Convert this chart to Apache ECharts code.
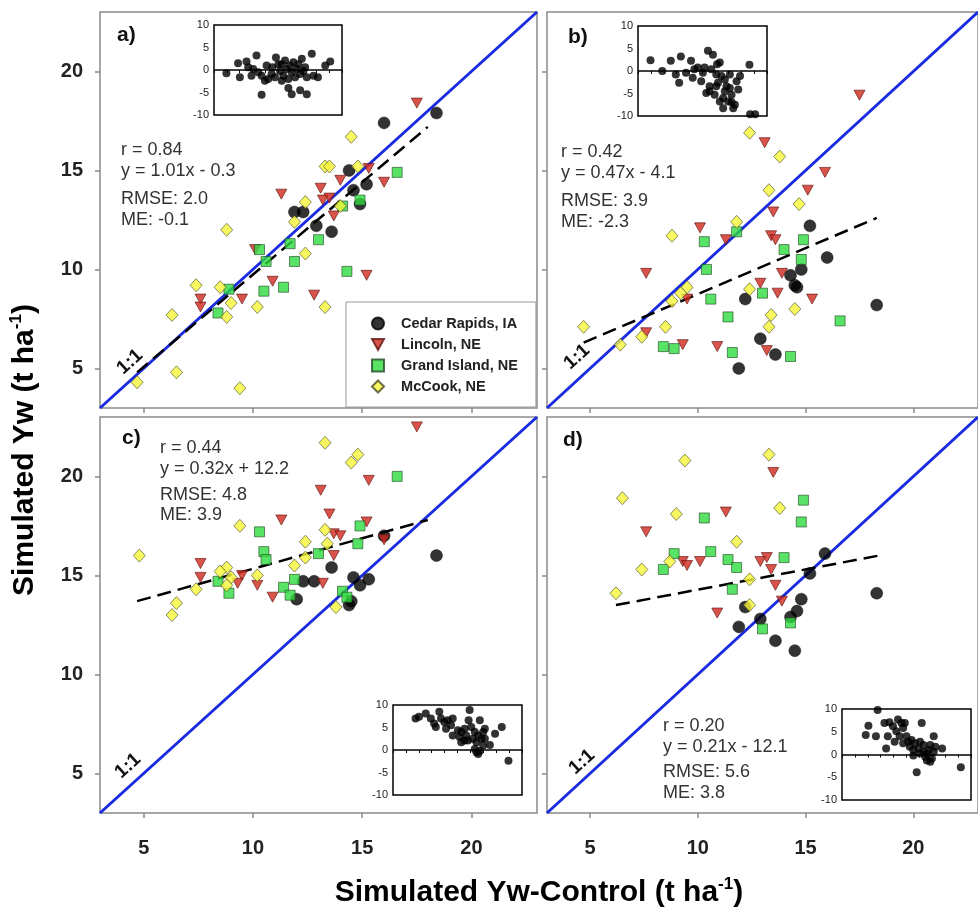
<!DOCTYPE html>
<html>
<head>
<meta charset="utf-8">
<script src="https://cdn.jsdelivr.net/npm/echarts@6/dist/echarts.min.js"></script>
<style>html,body{margin:0;padding:0;background:#fff}#c{width:978px;height:914px}</style>
</head>
<body>
<div id="c"></div>
<script>
// ---------- DATA ----------
const seriesNames = ['Cedar Rapids, IA', 'Lincoln, NE', 'Grand Island, NE', 'McCook, NE'];
const xTicks = [5, 10, 15, 20];
const yTicks = [5, 10, 15, 20];
const axisRange = [3, 23];
const oneToOne = [3, 23];
const panelLabels = ['a)', 'b)', 'c)', 'd)'];
const statR = ['r = 0.84', 'r = 0.42', 'r = 0.44', 'r = 0.20'];
const statEq = ['y = 1.01x - 0.3', 'y = 0.47x - 4.1', 'y = 0.32x + 12.2', 'y = 0.21x - 12.1'];
const statRMSE = ['RMSE: 2.0', 'RMSE: 3.9', 'RMSE: 4.8', 'RMSE: 5.6'];
const statME = ['ME: -0.1', 'ME: -2.3', 'ME: 3.9', 'ME: 3.8'];
const insetYTicks = [-10, 10, 5];   // min, max, step

// Panel a
const cedarA = [[16.0,17.4],[18.4,17.9],[14.4,15.0],[14.6,14.0],[15.2,14.3],[14.9,13.3],[11.9,12.9],[12.3,12.9],[12.9,12.2],[13.6,11.9]];
const lincolnA = [[17.5,18.4],[11.3,13.8],[13.1,14.1],[14.0,14.5],[15.3,15.1],[16.0,14.4],[13.2,13.5],[13.5,13.6],[13.7,12.7],[10.1,11.0],[10.9,9.4],[7.6,8.5],[7.6,8.1],[9.5,8.5],[12.8,8.7],[15.2,9.7]];
const grandA = [[16.6,14.9],[14.9,13.5],[14.1,13.2],[13.0,11.5],[11.7,11.3],[10.3,11.0],[10.6,10.4],[11.9,10.4],[14.3,9.9],[11.4,9.1],[10.5,8.9],[8.9,9.0],[8.4,7.8]];
const mccookA = [[14.5,16.7],[13.3,15.2],[13.5,15.2],[14.8,15.2],[12.4,13.4],[11.9,12.4],[14.0,13.2],[8.8,12.0],[12.4,10.8],[7.4,9.2],[8.5,9.1],[9.0,8.3],[10.2,8.1],[13.3,8.1],[8.8,7.6],[6.3,7.7],[6.5,4.8],[4.7,4.3],[9.4,4.0]];
const regA = [[4.7,4.8],[18.0,17.2]];

// Panel b
const cedarB = [[15.2,12.2],[16.0,10.6],[14.8,10.0],[14.3,9.7],[14.5,9.2],[14.6,9.1],[12.2,8.5],[18.3,8.2],[12.9,6.5],[13.6,5.7],[11.9,5.0]];
const lincolnB = [[17.5,18.8],[13.1,16.4],[15.9,14.9],[15.1,14.0],[13.5,12.9],[10.1,12.1],[11.3,11.5],[13.4,11.7],[13.6,11.5],[13.9,9.8],[7.6,9.8],[12.9,9.3],[13.7,8.8],[15.3,8.5],[9.5,8.5],[7.6,6.8],[9.3,6.2],[10.9,6.1],[13.2,5.9]];
const grandB = [[11.8,11.9],[10.3,11.4],[14.9,11.5],[14.0,11.0],[14.8,10.5],[10.4,10.0],[13.0,8.8],[10.6,8.5],[11.4,7.6],[16.6,7.4],[8.4,6.1],[8.9,6.0],[11.6,5.8],[14.3,5.6]];
const mccookB = [[12.4,16.9],[13.8,15.7],[13.3,14.0],[14.7,13.3],[11.8,12.4],[8.8,11.7],[12.4,9.0],[9.5,9.1],[9.2,8.8],[8.8,8.4],[13.4,7.7],[14.5,8.0],[13.3,7.1],[8.5,7.1],[4.7,7.1],[7.4,6.6],[6.4,6.2]];
const regB = [[4.7,6.3],[18.3,12.6]];

// Panel c
const cedarC = [[18.4,16.0],[13.6,15.4],[16.0,17.0],[12.3,14.7],[12.8,14.7],[14.6,14.9],[14.9,14.5],[15.3,14.8],[12.0,13.8],[14.4,13.5],[14.5,13.7]];
const lincolnC = [[17.5,22.5],[13.1,19.3],[15.3,19.8],[13.5,18.1],[11.3,17.8],[15.2,17.7],[16.0,16.8],[13.7,17.1],[14.0,17.0],[13.7,16.0],[7.6,15.6],[7.6,14.9],[9.5,15.0],[9.3,14.6],[10.2,14.5],[10.9,13.9],[13.2,14.6]];
const grandC = [[16.6,20.0],[14.9,17.5],[10.3,17.2],[14.8,16.6],[10.5,16.2],[13.0,16.1],[10.6,15.8],[11.9,14.8],[8.4,14.7],[11.4,14.4],[11.7,14.0],[8.9,14.1],[14.1,14.2],[14.3,13.9]];
const mccookC = [[13.3,21.7],[14.8,21.1],[14.5,20.7],[9.4,17.5],[13.3,17.3],[12.4,16.7],[13.4,16.6],[4.8,16.0],[12.4,15.9],[11.9,15.5],[8.8,15.4],[8.5,15.2],[10.2,15.0],[9.0,14.9],[8.8,14.5],[7.4,14.3],[6.5,13.6],[6.3,13.0],[13.8,13.4]];
const regC = [[4.7,13.7],[18.0,17.8]];

// Panel d
const cedarD = [[15.9,16.1],[15.2,15.1],[18.3,14.1],[14.8,13.8],[12.2,13.4],[14.6,13.2],[14.3,12.9],[12.9,12.8],[11.9,12.4],[13.6,11.7],[14.5,11.2]];
const lincolnD = [[13.5,20.2],[11.3,18.2],[7.6,17.2],[9.3,15.7],[9.5,15.5],[10.1,15.7],[12.9,15.7],[13.2,15.9],[13.4,15.3],[13.6,14.5],[13.9,13.7],[10.9,13.1]];
const grandD = [[14.9,18.8],[14.8,17.7],[10.3,17.9],[10.6,16.2],[8.9,16.1],[8.4,15.3],[11.4,15.8],[11.8,15.4],[14.0,15.9],[11.6,14.3],[13.0,12.3],[14.3,12.6]];
const mccookD = [[13.3,21.1],[9.4,20.8],[6.5,18.9],[9.0,18.1],[13.8,18.4],[11.8,16.7],[8.7,15.7],[7.4,15.3],[12.4,14.8],[6.2,14.1],[12.4,13.5]];
const regD = [[6.2,13.5],[18.4,16.0]];

// Inset residuals (x position across inset in %, residual t/ha)
const residA = [[9.7,-0.7],[18.8,1.5],[20.2,-1.6],[25.4,1.9],[33.2,3.2],[30.6,0.2],[34.6,-0.5],[37.2,-1.3],[37.2,-5.5],[41.1,1.0],[42.4,-2.0],[45.0,-0.9],[47.6,-1.6],[48.4,2.8],[51.6,-0.2],[52.9,1.3],[54.2,-1.3],[55.5,2.1],[56.8,0.2],[58.1,-2.0],[59.4,1.0],[60.7,-0.5],[62.0,1.7],[63.4,-1.6],[64.7,0.2],[66.0,1.3],[67.3,-0.9],[68.6,2.5],[69.9,-0.2],[71.2,0.6],[72.5,-1.6],[58.1,-4.0],[60.7,-5.4],[67.3,-4.5],[72.5,-5.4],[76.4,3.6],[77.7,-1.3],[81.2,-1.6],[86.9,1.0],[90.8,1.9],[29.3,-1.3],[39.8,-2.4],[50.3,1.3],[26.7,0.6],[45.5,0.6],[52.9,-2.4]];
const residB = [[9.7,2.4],[18.8,0.0],[25.4,2.3],[33.2,3.2],[29.3,-0.8],[31.9,-2.6],[37.2,-0.4],[41.1,2.3],[42.4,-1.5],[43.7,0.4],[46.3,0.8],[49.0,-2.3],[50.3,-0.4],[51.6,0.8],[54.2,4.5],[55.5,-4.5],[56.8,0.4],[58.1,3.6],[59.4,-5.3],[60.7,-0.8],[61.3,1.5],[62.0,-2.6],[63.4,1.9],[64.7,-1.1],[66.0,-6.0],[67.3,-4.5],[67.3,-1.9],[68.6,-3.4],[69.9,-6.8],[71.2,-0.8],[72.5,-5.3],[73.8,-8.3],[75.1,-7.5],[71.2,-3.8],[76.4,-2.3],[77.7,-4.1],[79.1,-1.1],[66.0,-8.3],[86.9,-9.6],[90.8,-9.6],[86.4,1.4],[72.5,-6.9],[60.7,-3.4],[52.9,-4.9],[63.4,-6.8],[55.5,-3.4]];
const residC = [[17.5,7.0],[20.2,7.4],[25.4,8.1],[29.3,7.0],[31.9,5.9],[35.9,8.5],[37.2,7.0],[39.8,6.2],[42.4,6.6],[46.3,7.0],[45.0,5.5],[46.3,3.2],[50.3,4.4],[51.6,2.9],[52.9,4.0],[55.5,4.7],[56.8,3.2],[58.1,2.1],[59.4,8.9],[58.6,6.6],[60.7,5.1],[62.0,2.5],[63.4,4.0],[64.7,1.7],[66.0,3.2],[67.3,6.6],[68.6,2.5],[69.9,4.0],[71.2,4.7],[63.4,0.2],[64.7,-0.5],[67.3,-0.2],[69.9,1.0],[75.1,1.1],[79.1,3.6],[84.3,5.1],[89.5,-2.4],[33.2,5.1],[41.1,4.7],[52.9,1.7],[66.0,-0.9],[71.2,2.5],[55.5,2.1]];
const residD = [[18.4,4.3],[20.5,6.3],[26.3,4.0],[27.6,9.8],[32.9,6.9],[34.2,1.3],[35.5,4.0],[36.8,7.1],[39.5,6.2],[42.1,5.1],[43.4,7.7],[44.7,4.0],[46.1,6.9],[48.7,6.9],[47.4,2.5],[50.0,4.0],[51.3,2.8],[52.6,1.7],[53.9,3.2],[55.3,1.0],[56.6,2.5],[57.9,-3.9],[59.2,1.3],[60.5,2.8],[61.8,6.9],[60.5,0.2],[63.2,0.6],[63.2,2.1],[64.5,-0.5],[65.8,-1.3],[67.1,1.0],[68.4,2.1],[69.7,-0.9],[71.1,4.0],[71.1,0.6],[72.4,1.7],[77.6,1.3],[92.1,-2.8],[40.8,2.8],[47.4,5.8],[55.3,-0.2],[65.8,0.2],[68.4,-1.6]];

// ---------- LAYOUT / STYLE ----------
const FONT = "'Liberation Sans', Arial, Helvetica, sans-serif";
const panels = [
  {sets:[cedarA,lincolnA,grandA,mccookA], reg:regA, resid:residA},
  {sets:[cedarB,lincolnB,grandB,mccookB], reg:regB, resid:residB},
  {sets:[cedarC,lincolnC,grandC,mccookC], reg:regC, resid:residC},
  {sets:[cedarD,lincolnD,grandD,mccookD], reg:regD, resid:residD}
];
const mainGrid = [
  {left:100, top:12, width:437, height:396},
  {left:547, top:12, width:438, height:396},
  {left:100, top:417, width:437, height:396},
  {left:547, top:417, width:438, height:396}
];
const insetGrid = [
  {left:214, top:25, width:128, height:90},
  {left:638, top:26, width:129, height:90},
  {left:393, top:705, width:129, height:90},
  {left:842, top:709, width:129, height:91}
];
const markerStyle = [
  {symbol:'circle', symbolSize:12, itemStyle:{color:'#000', borderColor:'#000', borderWidth:0.5}},
  {symbol:'path://M0,0 L10,0 L5,9 Z', symbolSize:[11,10], itemStyle:{color:'#d0281e', borderColor:'#5e1410', borderWidth:0.8}},
  {symbol:'rect', symbolSize:10, itemStyle:{color:'#30dc40', borderColor:'#244a24', borderWidth:0.8}},
  {symbol:'diamond', symbolSize:[12,13], itemStyle:{color:'#f6f63a', borderColor:'#4a4a28', borderWidth:0.8}}
];

const grids = [], xAxes = [], yAxes = [], series = [];
mainGrid.forEach((g, i) => {
  grids.push(Object.assign({show:true, borderColor:'#8a8a8a', borderWidth:1.5, backgroundColor:'#fff', containLabel:false}, g));
  xAxes.push({
    type:'value', gridIndex:i, min:axisRange[0], max:axisRange[1],
    axisLine:{show:false}, splitLine:{show:false},
    axisTick:{show:true, inside:false, length:5, customValues:xTicks, lineStyle:{color:'#8a8a8a', width:1.5}},
    axisLabel:{show:i>=2, customValues:xTicks, fontFamily:FONT, fontWeight:'bold', fontSize:20, color:'#222', margin:25}
  });
  yAxes.push({
    type:'value', gridIndex:i, min:axisRange[0], max:axisRange[1],
    axisLine:{show:false}, splitLine:{show:false},
    axisTick:{show:true, inside:false, length:5, customValues:yTicks, lineStyle:{color:'#8a8a8a', width:1.5}},
    axisLabel:{show:i%2===0, customValues:yTicks, fontFamily:FONT, fontWeight:'bold', fontSize:20, color:'#222', margin:17}
  });
});
insetGrid.forEach((g, k) => {
  const i = 4 + k;
  grids.push(Object.assign({show:true, borderColor:'#000', borderWidth:1.5, backgroundColor:'#fff', z:5}, g));
  xAxes.push({
    type:'value', gridIndex:i, min:0, max:100, interval:10, z:6,
    axisLine:{show:false}, splitLine:{show:false},
    axisTick:{show:true, inside:false, length:3, lineStyle:{color:'#000', width:1}},
    axisLabel:{show:false}
  });
  yAxes.push({
    type:'value', gridIndex:i, min:insetYTicks[0], max:insetYTicks[1], interval:insetYTicks[2], z:6,
    axisLine:{show:false}, splitLine:{show:false}, axisTick:{show:false},
    axisLabel:{show:true, fontFamily:FONT, fontSize:11, color:'#222', margin:5}
  });
});

panels.forEach((p, i) => {
  series.push({
    type:'line', xAxisIndex:i, yAxisIndex:i, data:[[oneToOne[0],oneToOne[0]],[oneToOne[1],oneToOne[1]]],
    symbol:'none', lineStyle:{color:'#1a2be0', width:3}, z:2, silent:true, clip:true
  });
  series.push({
    type:'line', xAxisIndex:i, yAxisIndex:i, data:p.reg,
    symbol:'none', lineStyle:{color:'#000', width:2.5, type:[14,7]}, z:2, silent:true
  });
  p.sets.forEach((d, s) => {
    series.push(Object.assign({
      type:'scatter', name:seriesNames[s], xAxisIndex:i, yAxisIndex:i, data:d, z:3, silent:true
    }, JSON.parse(JSON.stringify(markerStyle[s]))));
  });
  series.push({
    type:'scatter', xAxisIndex:4+i, yAxisIndex:4+i, data:p.resid, symbol:'circle', symbolSize:8,
    itemStyle:{color:'#000'}, z:8, silent:true,
    markLine:{silent:true, symbol:'none', label:{show:false}, lineStyle:{color:'#000', width:1.5, type:'solid'}, data:[{yAxis:0}]}
  });
});

// ---------- TEXT ----------
const statPos = [
  {x:121, y:[150,171,199,220]},
  {x:561, y:[152,173,201,222]},
  {x:160, y:[448,469,495,515]},
  {x:663, y:[726,747,772,793]}
];
const labelPos = [[117,35],[568,37],[122,438],[563,440]];
const onePos = [[130,362],[577,357],[128,766],[582,762]];
const graphics = [];
for (let i = 0; i < 4; i++) {
  graphics.push({type:'text', x:labelPos[i][0], y:labelPos[i][1], z:20,
    style:{text:panelLabels[i], font:'bold 21px '+FONT, fill:'#111', textAlign:'left', textVerticalAlign:'middle', align:'left', verticalAlign:'middle'}});
  const lines = [statR[i], statEq[i], statRMSE[i], statME[i]];
  lines.forEach((t, j) => {
    graphics.push({type:'text', x:statPos[i].x, y:statPos[i].y[j], z:20,
      style:{text:t, font:'18px '+FONT, fill:'#333', textAlign:'left', textVerticalAlign:'middle', align:'left', verticalAlign:'middle'}});
  });
  graphics.push({type:'text', x:onePos[i][0], y:onePos[i][1], rotation:Math.atan(19.8/21.85), z:20,
    style:{text:'1:1', font:'bold 19px '+FONT, fill:'#111', textAlign:'center', textVerticalAlign:'middle', align:'center', verticalAlign:'middle'}});
}
const richTitle = {
  b:{fontFamily:FONT, fontWeight:'bold', fontSize:30, lineHeight:34, color:'#000'},
  s:{fontFamily:FONT, fontWeight:'bold', fontSize:17, lineHeight:20, color:'#000', verticalAlign:'top'}
};
graphics.push({type:'text', x:539, y:893, z:20,
  style:{text:'{b|Simulated Yw-Control (t ha}{s|-1}{b|)}', rich:richTitle, textAlign:'center', textVerticalAlign:'middle', align:'center', verticalAlign:'middle'}});
graphics.push({type:'text', x:25, y:450, rotation:Math.PI/2, z:20,
  style:{text:'{b|Simulated Yw (t ha}{s|-1}{b|)}', rich:richTitle, textAlign:'center', textVerticalAlign:'middle', align:'center', verticalAlign:'middle'}});

const chart = echarts.init(document.getElementById('c'), null, {renderer:'canvas', width:978, height:914});
chart.setOption({
  animation:false,
  backgroundColor:'#fff',
  grid:grids, xAxis:xAxes, yAxis:yAxes, series:series,
  legend:{
    data:seriesNames, orient:'vertical', left:346, top:302, padding:[14,18,13,25],
    itemGap:6, itemWidth:12, itemHeight:12, backgroundColor:'#fff', borderColor:'#999', borderWidth:1,
    selectedMode:false, z:10,
    formatter: name => '   ' + name,
    textStyle:{fontFamily:FONT, fontWeight:'bold', fontSize:14.5, color:'#222'}
  },
  graphic:graphics
});
</script>
</body>
</html>
